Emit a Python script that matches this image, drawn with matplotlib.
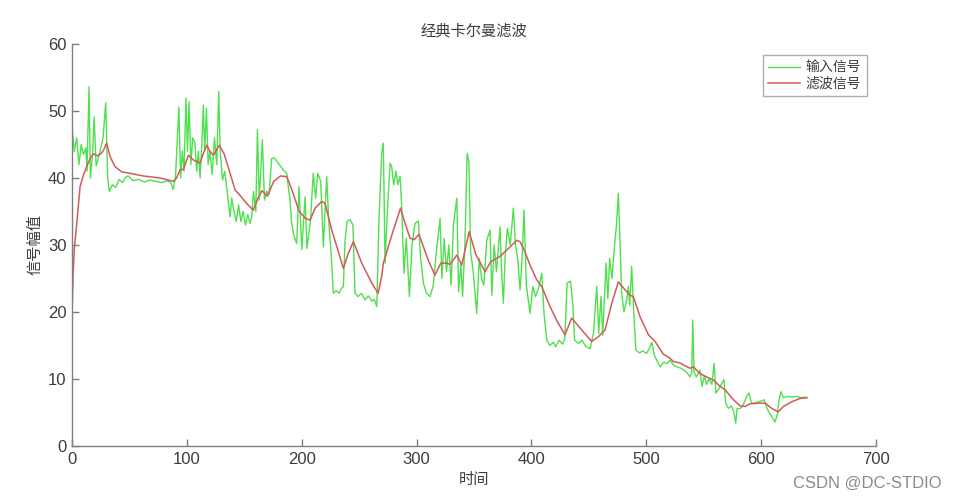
import numpy as np
import matplotlib
matplotlib.use('Agg')
import matplotlib.pyplot as plt

plt.rcParams['font.family'] = ['Liberation Sans', 'Noto Sans CJK SC', 'DejaVu Sans']
cjk = ['Noto Sans CJK SC', 'DejaVu Sans']

axis_col = '#7f7f7f'
text_col = '#3c3c3c'
green = '#4ee04e'
red = '#d35a5a'

# input signal
in_x = [0, 2, 4, 6, 8, 10, 12, 13, 14.8, 16, 18, 19.2, 21, 23, 25, 27, 29.3, 31, 32.5, 35,
        38, 41, 44, 47, 49, 53, 58, 63, 68, 73, 78, 83, 86, 88, 90, 93, 94.5, 96, 97.5, 99.2,
        100.5, 101.9, 103.5, 105, 107, 108.5, 110, 111.5, 113, 114.3, 115.5, 117, 118.5, 120, 122, 124, 126, 127.7, 129, 131,
        133, 135, 137.6, 139, 141, 143, 145, 147, 149, 151, 153, 155, 156.4, 158, 160, 161.4, 163, 165.7, 167.5, 169.5,
        171.5, 173.8, 176, 179.6, 183.9, 186.8, 189.8, 191, 192.7, 195.6, 197.6, 200, 202.9, 204.5, 207.6, 210, 212, 213.9, 216.5, 218.8,
        220.2, 221.7, 223.5, 225.5, 227.5, 230, 232.5, 234.5, 236.2, 237.7, 239.5, 242, 244.5, 246.4, 249, 252, 255, 258, 261, 263,
        265.3, 267.3, 269.6, 271, 272.5, 274.5, 276.9, 278.3, 280, 282, 283.5, 285.6, 287, 289, 291, 293.7, 296, 298.6, 301.5, 303.5,
        305.9, 308.5, 311.7, 314.5, 317, 320.4, 322, 324, 326, 328, 330, 332, 335, 336.5, 338.5, 340, 342, 344, 345.5, 347,
        349.4, 352.3, 354.5, 356.5, 358.5, 361, 363.9, 365.5, 367.5, 369.5, 372.6, 374, 375.5, 377, 379, 381.5, 384.2, 386, 388, 390,
        391.5, 393.5, 395.5, 397, 398.7, 401.1, 403.5, 406, 408.9, 410.9, 413.3, 416, 419, 421, 424, 427, 429, 431, 434, 436,
        437.5, 441, 444, 447, 451, 453.9, 456.8, 458.5, 460.5, 462, 464.9, 466.5, 468, 470, 472.7, 474, 475.6, 477, 478.5, 480.5,
        482.9, 484.3, 485.5, 487.2, 489, 490.9, 494, 497, 500, 502.5, 504.7, 507, 510, 512, 515, 518, 520.6, 524, 527, 530,
        533, 536, 538, 539.5, 540.4, 541.5, 543.5, 546.7, 548.5, 550.5, 552.5, 554.5, 557, 559, 560.5, 563, 565.5, 567.6, 569, 571.5,
        574, 576, 577.8, 579, 581.6, 584, 587.4, 589.4, 591.5, 594, 598, 602.5, 605, 608, 612, 614, 615.5, 617, 619.5, 623,
        627, 631, 635, 638.2, 640]
in_y = [47.5, 44, 46, 42, 45, 43.5, 44.5, 41, 53.6, 40, 44, 49.1, 41.8, 43, 44.5, 46, 51.2, 40, 38, 39,
        38.6, 39.8, 39.3, 40.2, 40.3, 39.6, 39.8, 39.4, 39.7, 39.5, 39.3, 39.6, 39.3, 38.3, 40, 50.6, 40, 44, 41, 51.9,
        44, 51.4, 42, 46, 45.2, 41, 44, 40, 45, 50.9, 44, 50.4, 42, 44, 40.5, 46, 42, 52.9, 44, 39.7,
        41, 38, 34.2, 37, 35, 33.5, 36, 33.5, 35, 33, 34.5, 33.2, 34.2, 38, 35, 47.2, 36.7, 45.7, 36.7, 38,
        37.5, 42.9, 43, 42.2, 41.2, 40.7, 36.7, 33.5, 31.7, 30.2, 38.7, 29.3, 37.2, 29.5, 33.7, 40.7, 37, 40.7, 39.5, 29.7,
        35, 40.2, 33.5, 28.8, 22.8, 23.2, 22.8, 23.5, 23.8, 30.7, 33.5, 33.8, 33, 22.8, 22.3, 22.8, 21.8, 22.4, 21.6, 21.9,
        20.8, 34.2, 43.7, 45.2, 27.3, 35, 42.2, 41.7, 39, 41, 39, 40.2, 35.7, 25.8, 31, 22.3, 30, 33.2, 33.6, 28,
        24.3, 22.8, 22.3, 24, 28.7, 34, 25, 31, 26, 30, 24, 33, 37, 23, 27, 22.3, 30, 43.7, 42.5, 29,
        25.8, 19.8, 28, 25, 24, 30.7, 32.2, 22.5, 30, 26, 32.7, 26, 21.3, 28, 32.5, 30, 35.5, 30, 28, 23.3,
        27, 35.2, 24, 22, 19.8, 23.8, 22.3, 23.5, 25.8, 19.8, 15.8, 15, 15.5, 14.8, 15.8, 15.2, 16, 24.3, 24.6, 21,
        15.8, 15.3, 15.8, 14.9, 14.5, 16.8, 23.8, 16.8, 22.3, 16.5, 27.3, 22, 28, 25, 30.7, 33, 37.7, 31, 22.8, 20,
        21.8, 23.8, 21, 26.8, 20, 14.3, 13.9, 14.2, 13.8, 14.5, 15.5, 13.5, 12.5, 11.8, 12.5, 12.3, 12.8, 12, 11.8, 11.6,
        11.3, 10.8, 10.3, 11, 18.8, 11, 10.3, 11.3, 8.9, 10.5, 9.2, 10, 9.2, 12.3, 7.9, 8.5, 9.3, 9.9, 6.4, 5.6,
        6, 5.2, 3.4, 5.6, 5.6, 6, 7.4, 7.9, 6.4, 6.4, 6.6, 6.9, 5.6, 4.7, 3.6, 4.7, 6.8, 8.1, 7.2, 7.4,
        7.3, 7.4, 7.2, 7.3, 7.2]

# filtered signal
kf_x = [0, 1, 2, 4, 7, 10, 12.8, 15.7, 18.6, 22, 25, 27.3, 30.2, 33.1, 37.4, 43.3, 50.5, 62, 76.6, 88.2,
        91, 94, 97, 101.3, 105.6, 111.4, 114, 117.3, 120, 123, 128.3, 132.4, 137.6, 142, 146.3, 152, 157.8, 162.2, 165.4, 170,
        175.6, 181.5, 187, 191.5, 197.5, 202.9, 207.2, 211.6, 217.4, 220.3, 226.1, 231, 236.2, 240.6, 245, 252.2, 261, 266.5, 269.6, 271,
        279.7, 286, 290, 294.3, 298, 302, 306, 310, 316, 321, 326.2, 329, 335, 339.3, 345.7, 351.5, 359.6, 364.5, 372.6, 380,
        387.2, 390, 393.5, 398.7, 404.6, 408.9, 416.2, 422, 429.2, 435, 442.3, 452.4, 458.2, 464, 469.9, 475.6, 481.5, 485.8, 488.7, 494.5,
        501.8, 507.6, 514.8, 520.6, 523.5, 529.4, 532.2, 538, 541, 546.7, 552.6, 558.3, 564.1, 568.5, 575.8, 581.6, 586, 590.3, 599, 603.4,
        609.2, 614.9, 619.3, 626.6, 633.8, 639.6]
kf_y = [20, 26, 29.5, 33, 38.7, 40.5, 41.7, 42.9, 43.6, 43.3, 43.6, 44.1, 45.2, 43.2, 41.7, 40.9, 40.7, 40.3, 40, 39.5,
        40, 41.2, 41.3, 43.4, 42.7, 42.2, 43.5, 44.9, 44, 43.4, 44.9, 43.6, 40.7, 38.2, 37.4, 36.2, 35.2, 37.1, 38.1, 37.3,
        39.5, 40.3, 40.2, 38.2, 35.1, 34, 33.7, 35.5, 36.5, 36.2, 32.2, 29.5, 26.5, 28.8, 30.5, 27.3, 24.3, 22.8, 25.3, 27.3,
        32.2, 35.5, 33.2, 31, 30.8, 31.6, 29.7, 27.8, 25.5, 27.3, 27.3, 27.1, 28.5, 27, 32, 28.6, 26, 27.5, 28.3, 29.5,
        30.7, 30.5, 29.3, 27, 24.8, 23.8, 20.8, 18.7, 16.6, 19.1, 17.6, 15.6, 16.3, 17.3, 21.3, 24.5, 23.3, 22.5, 22.3, 19.3,
        16.6, 15.6, 13.7, 13.1, 12.6, 12.4, 12.1, 11.6, 11.8, 10.8, 10.3, 9.85, 8.9, 8.4, 6.9, 6, 5.9, 6.3, 6.4, 6.4,
        5.6, 5.1, 5.9, 6.6, 7.1, 7.2]

fig = plt.figure(figsize=(9.58, 5.01), dpi=100)
ax = fig.add_axes([0.0752, 0.1098, 0.8393, 0.8024])

ax.plot(in_x, in_y, color=green, lw=1.0, label='输入信号')
ax.plot(kf_x, kf_y, color=red, lw=1.1, label='滤波信号')

ax.set_xlim(0, 700)
ax.set_ylim(0, 60)
ax.set_xticks(np.arange(0, 701, 100))
ax.set_yticks(np.arange(0, 61, 10))

for s in ['top', 'right']:
    ax.spines[s].set_visible(False)
for s in ['left', 'bottom']:
    ax.spines[s].set_color(axis_col)
    ax.spines[s].set_linewidth(1.0)
ax.tick_params(direction='in', length=5, width=1, colors=axis_col, labelcolor=text_col, labelsize=12, pad=4)

ax.set_title('经典卡尔曼滤波', family=cjk, fontsize=11, color=text_col, pad=6)
ax.set_xlabel('时间', family=cjk, fontsize=11, color=text_col, labelpad=3)
ax.set_ylabel('信号幅值', family=cjk, fontsize=11, color=text_col, labelpad=3)

leg = ax.legend(loc='upper right', bbox_to_anchor=(0.992, 0.98), prop={'family': cjk, 'size': 10},
                frameon=True, fancybox=False, edgecolor='#9a9a9a', handlelength=2.3,
                borderpad=0.4, labelspacing=0.15, handletextpad=0.4, borderaxespad=0.2)
leg.get_frame().set_linewidth(1.0)
for t in leg.get_texts():
    t.set_color(text_col)

fig.text(0.983, 0.035, 'CSDN @DC-STDIO', ha='right', va='center', fontsize=12, color='#8a8a8a',
         family=['Liberation Sans', 'DejaVu Sans'])

fig.savefig('out.png', dpi=100, facecolor='white')
